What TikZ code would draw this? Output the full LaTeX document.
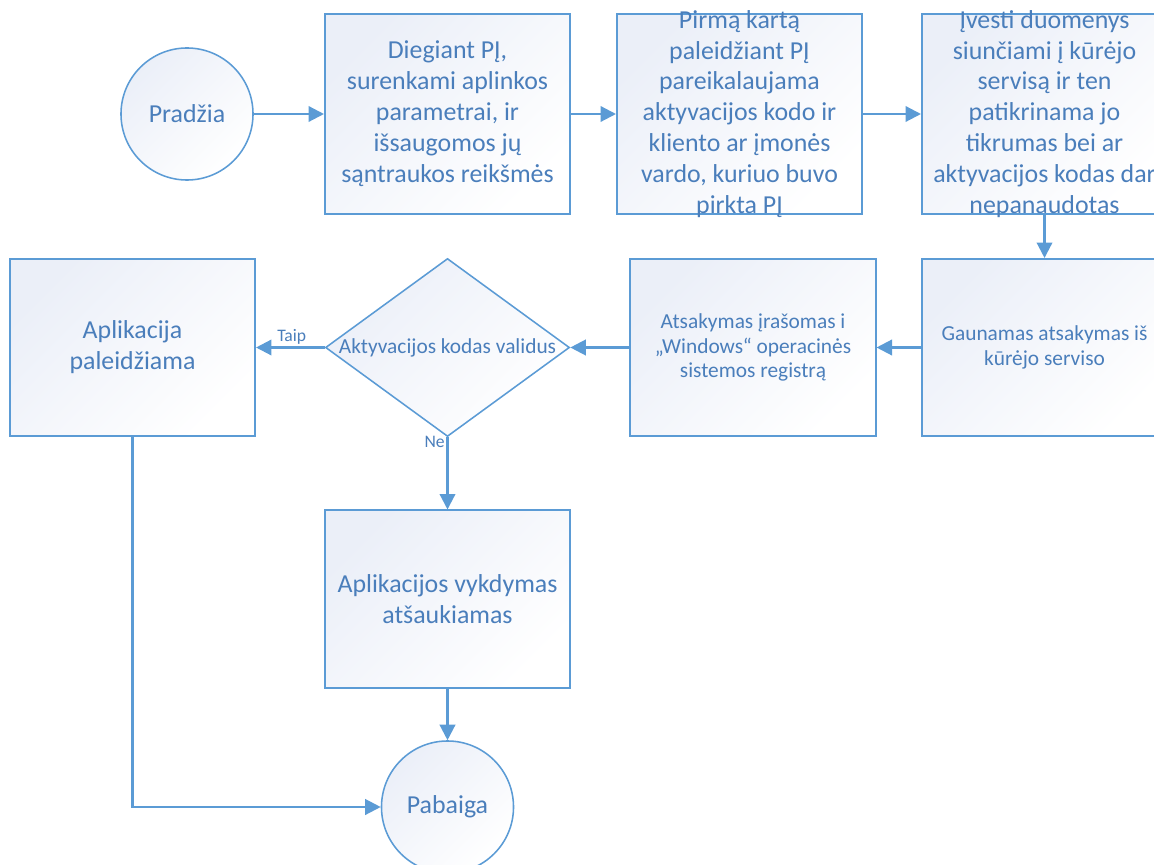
\documentclass[tikz,border=0pt]{standalone}
\usepackage{fontspec}
\setmainfont{Carlito}
\usetikzlibrary{arrows.meta,shapes.geometric}
\definecolor{lineblue}{HTML}{5B9BD5}
\definecolor{txtblue}{HTML}{4A7EBB}
\definecolor{shadeblue}{HTML}{EBEFF8}

\begin{document}
\begin{tikzpicture}[x=0.025cm, y=-0.025cm,
  box/.style={draw=lineblue, line width=1.4pt, top color=shadeblue, bottom color=white, shading angle=45, minimum width=6.125cm, minimum height=5cm, inner sep=0pt},
  lowbox/.style={box, minimum height=4.425cm},
  term/.style={circle, draw=lineblue, line width=1.1pt, top color=shadeblue, bottom color=white, shading angle=45, minimum size=3.3cm, inner sep=0pt},
  dec/.style={diamond, draw=lineblue, line width=1.1pt, top color=shadeblue, bottom color=white, shading angle=45, aspect=1.37, minimum width=6.1cm, minimum height=4.45cm, inner sep=0pt},
  big/.style={text=txtblue, align=center, font=\fontsize{18.4}{22}\selectfont},
  small/.style={text=txtblue, align=center, font=\fontsize{15.2}{17.2}\selectfont},
  lbl/.style={text=txtblue, font=\fontsize{12.5}{14}\selectfont},
  arr/.style={draw=lineblue, line width=1.6pt, -{Triangle[length=11pt,width=11pt]}}]
\useasboundingbox (0,0) rectangle (1154,865);
\clip (0,0) rectangle (1154,865);

\node[term, big] (start) at (187,114) {Pradžia};
\node[box, big] (b1) at (447.5,114) {Diegiant PĮ,\\surenkami aplinkos\\parametrai, ir\\išsaugomos jų\\sąntraukos reikšmės};
\node[box] (b2) at (739.5,114) {};
\node[big] (b2t) at (b2) {Pirmą kartą\\paleidžiant PĮ\\pareikalaujama\\aktyvacijos kodo ir\\kliento ar įmonės\\vardo, kuriuo buvo\\pirkta PĮ};
\node[box] (b3) at (1044.5,114) {};
\node[big] (b3t) at (b3) {Įvesti duomenys\\siunčiami į kūrėjo\\servisą ir ten\\patikrinama jo\\tikrumas bei ar\\aktyvacijos kodas dar\\nepanaudotas};
\node[lowbox, small] (b4) at (1044.5,347.5) {Gaunamas atsakymas iš\\kūrėjo serviso};
\node[lowbox, small] (b5) at (753,347.5) {Atsakymas įrašomas i\\„Windows“ operacinės\\sistemos registrą};
\node[dec] (dec) at (447.5,347.5) {};
\node[small] (dect) at (dec) {Aktyvacijos kodas validus};
\node[lowbox, big] (b6) at (132.5,347.5) {Aplikacija\\paleidžiama};
\node[lowbox, big] (b7) at (447.5,599) {Aplikacijos vykdymas\\atšaukiamas};
\node[term, big] (end) at (447.5,807) {Pabaiga};

\draw[arr] (start) -- (b1);
\draw[arr] (b1) -- (b2);
\draw[arr] (b2) -- (b3);
\draw[arr] (b3) -- (b4);
\draw[arr] (b4) -- (b5);
\draw[arr] (b5) -- (dec);
\draw[arr] (dec) -- node[lbl, above, pos=.48, inner sep=1.5pt] {Taip} (b6);
\draw[arr] (dec) -- node[lbl, pos=.06, anchor=east, xshift=-.7pt, fill=white, inner sep=.5pt] {Ne} (b7);
\draw[arr] (b7) -- (end);
\draw[arr] (b6) |- (end);
\end{tikzpicture}
\end{document}
